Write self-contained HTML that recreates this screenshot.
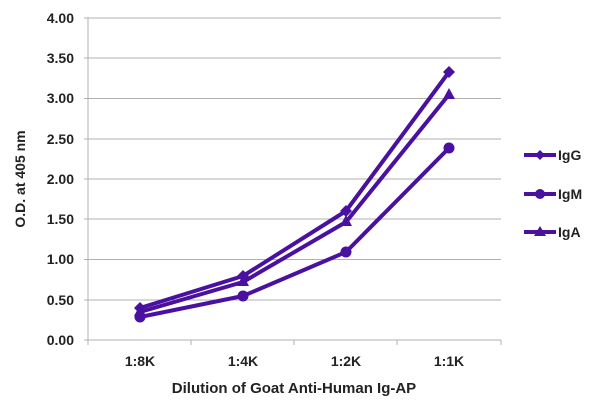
<!DOCTYPE html>
<html><head><style>body{margin:0;background:#fff}svg text{font-family:"Liberation Sans",sans-serif;font-weight:bold;fill:#222}</style></head><body>
<svg width="600" height="412" xmlns="http://www.w3.org/2000/svg">
<g stroke="#b0b0b0" stroke-width="1">
<line x1="88" y1="18" x2="501" y2="18"/><line x1="88" y1="58" x2="501" y2="58"/><line x1="88" y1="98.5" x2="501" y2="98.5"/><line x1="88" y1="139" x2="501" y2="139"/><line x1="88" y1="179" x2="501" y2="179"/><line x1="88" y1="219" x2="501" y2="219"/><line x1="88" y1="259.5" x2="501" y2="259.5"/><line x1="88" y1="300" x2="501" y2="300"/><line x1="88" y1="340" x2="501" y2="340"/>
<line x1="88" y1="18" x2="88" y2="345"/>
<line x1="84" y1="18" x2="88" y2="18"/><line x1="84" y1="58" x2="88" y2="58"/><line x1="84" y1="98.5" x2="88" y2="98.5"/><line x1="84" y1="139" x2="88" y2="139"/><line x1="84" y1="179" x2="88" y2="179"/><line x1="84" y1="219" x2="88" y2="219"/><line x1="84" y1="259.5" x2="88" y2="259.5"/><line x1="84" y1="300" x2="88" y2="300"/><line x1="84" y1="340" x2="88" y2="340"/>
<line x1="191" y1="340" x2="191" y2="345"/><line x1="294" y1="340" x2="294" y2="345"/><line x1="397" y1="340" x2="397" y2="345"/><line x1="501" y1="340" x2="501" y2="345"/>
</g>
<g font-size="14" text-anchor="end">
<text x="74" y="23">4.00</text><text x="74" y="63">3.50</text><text x="74" y="103">3.00</text><text x="74" y="144">2.50</text><text x="74" y="184">2.00</text><text x="74" y="224">1.50</text><text x="74" y="264">1.00</text><text x="74" y="305">0.50</text><text x="74" y="345">0.00</text>
</g>
<g font-size="14" text-anchor="middle">
<text x="140" y="366">1:8K</text><text x="243" y="366">1:4K</text><text x="346" y="366">1:2K</text><text x="449" y="366">1:1K</text>
<text x="294" y="393" font-size="15">Dilution of Goat Anti-Human Ig-AP</text>
<text transform="translate(25,179) rotate(-90)" font-size="14">O.D. at 405 nm</text>
</g>
<g stroke="#4a10a0" stroke-width="4" fill="none" stroke-linejoin="round">
<polyline points="140,308 243,276 346,211 449,72"/>
<polyline points="140,317 243,296 346,252 449,148"/>
<polyline points="140,312 243,282 346,222 449,94.5"/>
<line x1="524" y1="155" x2="556" y2="155"/><line x1="524" y1="194" x2="556" y2="194"/><line x1="524" y1="232" x2="556" y2="232"/>
</g>
<g fill="#4a10a0">
<polygon points="140,302 146,308 140,314 134,308"/><polygon points="243,270 249,276 243,282 237,276"/><polygon points="346,205 352,211 346,217 340,211"/><polygon points="449,66 455,72 449,78 443,72"/>
<circle cx="140" cy="317" r="5.5"/><circle cx="243" cy="296" r="5.5"/><circle cx="346" cy="252" r="5.5"/><circle cx="449" cy="148" r="5.5"/>
<polygon points="140,305 146,316 134,316"/><polygon points="243,275 249,286 237,286"/><polygon points="346,215 352,226 340,226"/><polygon points="449,88 455,99 443,99"/>
<polygon points="540,150 545,155 540,160 535,155"/><circle cx="540" cy="194" r="5"/><polygon points="540,226 546,236 534,236"/>
</g>
<g font-size="14"><text x="558" y="160">IgG</text><text x="558" y="199">IgM</text><text x="558" y="237">IgA</text></g>
</svg>
</body></html>
